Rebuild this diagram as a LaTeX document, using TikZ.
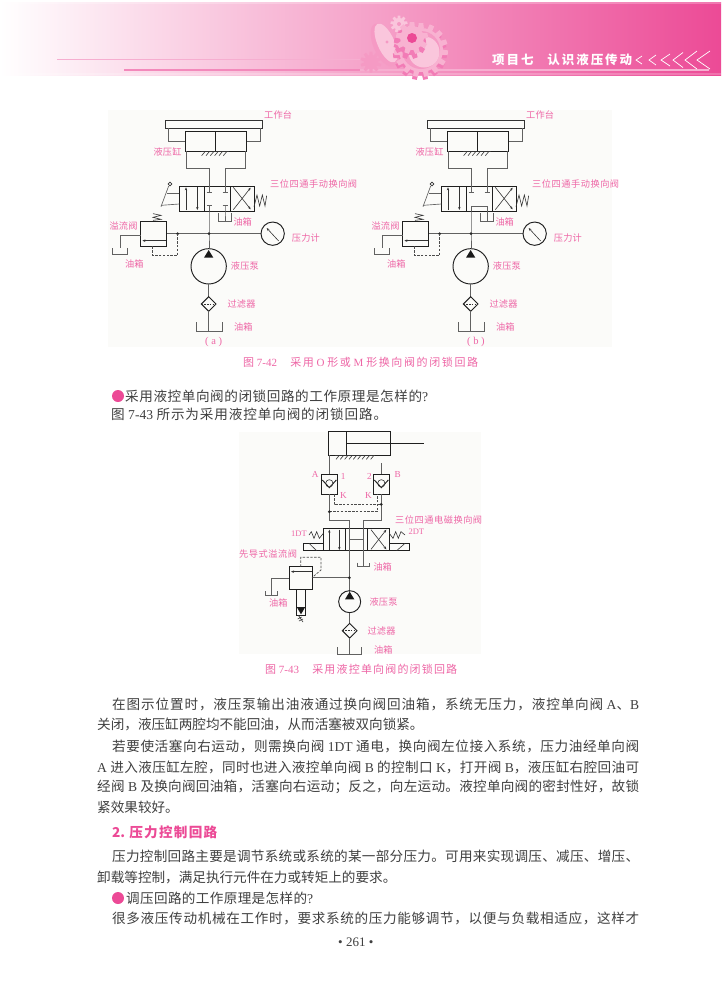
\documentclass[tikz,border=0pt]{standalone}
\usepackage{fontspec}
\usetikzlibrary{arrows.meta}
\setmainfont{Noto Sans CJK SC}
\newfontfamily\ltnfont{Liberation Serif}
\newcommand{\ltn}[1]{{\ltnfont #1}}
% stretchable glue between CJK characters, so that lines can be set to an exact width
\newXeTeXintercharclass\cjkcl
\newcount\cjkcnt
\cjkcnt="3000 \loop\ifnum\cjkcnt<"A000 \XeTeXcharclass\cjkcnt=\cjkcl \advance\cjkcnt by 1 \repeat
\cjkcnt="FF00 \loop\ifnum\cjkcnt<"FFF0 \XeTeXcharclass\cjkcnt=\cjkcl \advance\cjkcnt by 1 \repeat
\XeTeXinterchartoks\cjkcl\cjkcl={\hskip 0pt plus 1fil\relax}
\XeTeXinterchartokenstate=1
\definecolor{inkc}{HTML}{404040}
\definecolor{rosec}{HTML}{EC4A96}
\definecolor{labc}{HTML}{EE66A6}
\definecolor{figbg}{HTML}{FBFBF9}
\definecolor{geara}{HTML}{FAC6DC}
\definecolor{gearb}{HTML}{F8B2D1}
\definecolor{gearc}{HTML}{F59AC4}
\definecolor{geard}{HTML}{F27CB6}
\tikzset{
 bodyt/.style={anchor=west,inner sep=0pt,text=inkc,font=\fontsize{13.6}{14}\selectfont},
 capt/.style={anchor=west,inner sep=0pt,text=labc,font=\fontsize{11}{12}\selectfont},
 figlab/.style={anchor=west,inner sep=0pt,text=labc,font=\fontsize{9.2}{10}\selectfont},
 pipe/.style={draw=black!62,line width=.65pt},
 heavy/.style={draw=black!88,line width=.95pt},
 fine/.style={draw=black!80,line width=.6pt},
 pilot/.style={draw=black!70,line width=.7pt,dash pattern=on 2.4pt off 1.4pt},
 flow/.style={-{Stealth[length=3pt,width=2.4pt]}},
 jdot/.style={fill=black!85},
}
% name, x, y, width, style, text
\newcommand{\tl}[6]{\node[#5] (#1) at (#2,#3) {\makebox[#4pt][s]{#6}};}
\newcommand{\gearshape}[6]{%
 \fill[#6] (#1,#2) circle (#3);
 \foreach \k in {1,...,#5}{%
  \pgfmathsetmacro\ang{\k*360/#5}
  \fill[#6,rotate around={\ang:(#1,#2)}] ({#1-0.7*#4*3.14/#5},#2) -- ({#1-0.42*#4*3.14/#5},#2-#4) -- ({#1+0.42*#4*3.14/#5},#2-#4) -- ({#1+0.7*#4*3.14/#5},#2) -- cycle;
 }}
% the two upper circuits; coordinates are 3x pixels relative to the shift
\newcommand{\upperfig}[2]{%
\begin{scope}[shift={(#2,105)},x=.33333pt,y=-.33333pt]
 \draw[heavy,draw=black!80] (256,46) rectangle (546,70);
 \coordinate (#1ta) at (266,70); \coordinate (#1tb) at (541,70);
 \coordinate (#1cl) at (316,108); \coordinate (#1cr) at (500,108);
 \draw[pipe] (#1ta) |- (#1cl);
 \draw[pipe] (#1tb) |- (#1cr);
 \draw[heavy] (316,80) rectangle (500,138);
 \draw[heavy] (406,80) -- (406,138);
 \draw[fine] (362,140) -- (446,140);
 \foreach \i in {365,378,...,440}{\draw[fine] (\i+10,140) -- (\i,152);}
 \coordinate (#1vt1) at (387,243); \coordinate (#1vt2) at (435,243);
 \coordinate (#1cb1) at (318,138); \coordinate (#1cb2) at (497,138);
 \draw[pipe] (#1cb1) -- (318,190) -- (387,190) -- (#1vt1);
 \draw[pipe] (#1cb2) -- (497,190) -- (435,190) -- (#1vt2);
 % directional valve
 \draw[heavy] (298,243) rectangle (522,318);
 \draw[heavy] (373,243) -- (373,318) (450,243) -- (450,318);
 \draw[fine,flow] (318,315) -- (318,247);
 \draw[fine,flow] (352,247) -- (352,315);
 \draw[fine,flow] (460,314) -- (512,248);
 \draw[fine,flow] (460,247) -- (512,313);
 \draw[fine] (522,305) -- (531,270) -- (539,303) -- (547,270) -- (555,303) -- (560,272);
 \draw[pipe] (298,265) -- (262,265);
 \draw[pipe] (298,297) -- (243,301);
 \draw[pipe] (243,305) -- (266,243);
 \draw[fine,fill=white] (270,237) circle (5.5);
 % pressure line
 \coordinate (#1j1) at (387,386); \coordinate (#1j2) at (293,386);
 \coordinate (#1vb) at (387,318);
 \draw[pipe] (#1vb) -- (#1j1) -- (387,430);
 \draw[pipe] (258,386) -- (#1j2) -- (#1j1) -- (543,386);
 \fill[jdot] (#1j1) circle (4.5) (#1j2) circle (4.5);
 \draw[heavy] (578,386) circle (35);
 \draw[fine,flow] (596,408) -- (560,369);
 % relief valve
 \draw[heavy] (182,349) rectangle (258,424);
 \draw[fine,flow] (258,407) -- (187,407);
 \draw[fine] (219,346) -- (243,343) -- (219,337) -- (243,331) -- (219,326);
 \coordinate (#1rl) at (182,390); \coordinate (#1t1) at (120,430);
 \draw[pipe] (#1rl) -- (120,390) -- (#1t1);
 \draw[pipe] (96,430) -- (96,447) -- (143,447) -- (143,430);
 \coordinate (#1rb) at (218,424);
 \draw[pilot] (#1j2) -- (293,451) -- (218,451) -- (#1rb);
 % pump, filter, tank
 \draw[heavy] (386,484) circle (53);
 \fill[black!90] (386,435) -- (400,458) -- (372,458) -- cycle;
 \coordinate (#1pb) at (386,537); \coordinate (#1ft) at (386,575);
 \coordinate (#1fb) at (386,619); \coordinate (#1tk) at (386,678);
 \draw[pipe] (#1pb) -- (#1ft);
 \draw[heavy] (364,597) -- (386,575) -- (408,597) -- (386,619) -- cycle;
 \draw[fine,dash pattern=on 1.6pt off 1.2pt] (364,597) -- (408,597);
 \draw[pipe] (#1fb) -- (#1tk);
 \draw[pipe] (348,652) -- (348,678) -- (427,678) -- (427,652);
 % labels
 \tl{#1l1}{552}{30}{28}{figlab}{工作台}
 \tl{#1l2}{220}{140}{28}{figlab}{液压缸}
 \tl{#1l3}{570}{238}{87}{figlab}{三位四通手动换向阀}
 \tl{#1l4}{460}{352}{18}{figlab}{油箱}
 \tl{#1l5}{88}{362}{28}{figlab}{溢流阀}
 \tl{#1l6}{135}{478}{18}{figlab}{油箱}
 \tl{#1l7}{635}{398}{28}{figlab}{压力计}
 \tl{#1l8}{452}{484}{28}{figlab}{液压泵}
 \tl{#1l9}{442}{597}{28}{figlab}{过滤器}
 \tl{#1l10}{462}{666}{18}{figlab}{油箱}
\end{scope}}
\begin{document}
\begin{tikzpicture}[x=1pt,y=-1pt]
\useasboundingbox (0,0) rectangle (721,1005);
\fill[white] (0,0) rectangle (721,1005);
% header band
\shade[left color=white,right color=rosec,middle color=rosec!50!white] (0,2) rectangle (721,75);
\fill[white,opacity=.25] (0,2) rectangle (721,3.5);
\fill[white,opacity=.22] (0,72.5) rectangle (721,75);
\draw[draw=rosec!45!white,line width=.6pt] (57,59) -- (360,59);
\draw[draw=rosec!65!white,line width=1.3pt] (124,70) -- (360,70);
\draw[draw=rosec!45!white,line width=1.1pt] (360,70) -- (709,70);
% gears
\gearshape{399}{24}{6}{8.5}{9}{geara}
\fill[gearc] (399,24) circle (2);
\gearshape{371}{62}{7}{10.5}{10}{gearc}
\fill[gearc,rotate around={24:(384,45)}] (384,45) circle[x radius=10.5,y radius=23];
\fill[geara,rotate around={24:(386,43)}] (386,43) circle[x radius=8.5,y radius=21];
\fill[gearc] (387,42) circle (1.6);
\gearshape{420}{53}{22}{27}{15}{geard}
\gearshape{421}{50}{22}{27}{15}{gearb}
\fill[gearc] (421,50) circle (19);
\fill[geara] (424,52) circle (15.5);
\gearshape{410}{43}{12}{16}{9}{geard}
\gearshape{412}{38}{12}{16}{9}{gearb}
\fill[rosec] (412,38) circle (5);
% header text
\tl{htitle}{492}{60}{140}{anchor=west,inner sep=0pt,text=white,font=\fontsize{12.5}{13}\bfseries\selectfont}{项目七\hspace{1.1em minus 1em}认识液压传动}
\foreach \tipx/\endx/\hh [count=\n] in {636/642/4,649/656/5,661/670/6,673/683/7.5,685/697/9,697/710/9}
 {\draw[white,line width=.7pt] (\endx,60-\hh) -- (\tipx,60) -- (\endx,60+\hh);}
% figure backgrounds
\fill[figbg] (108,110) rectangle (612,347);
\fill[figbg] (239,432) rectangle (481,654);
% figure 7-42
\upperfig{a}{80}
\upperfig{b}{342}
% centre cells
\begin{scope}[shift={(80,105)},x=.33333pt,y=-.33333pt]
 \coordinate (avt1) at (387,243); \coordinate (avt2) at (435,243);
 \draw[pipe] (avt1) -- (387,262) (380,262) -- (395,262);
 \draw[pipe] (avt2) -- (435,262) (428,262) -- (443,262);
 \draw[pipe] (380,300) -- (395,300) (428,300) -- (443,300);
 \draw[pipe] (387,300) -- (387,318);
 \coordinate (atk) at (435,350);
 \draw[pipe] (435,300) -- (435,318) -- (atk);
 \draw[pipe] (415,325) -- (415,350) -- (455,350) -- (455,325);
 \node[anchor=west,inner sep=0pt,text=labc,font=\ltnfont\fontsize{10.5}{11}\selectfont] (acap) at (375,710) {( a )};
\end{scope}
\begin{scope}[shift={(342,105)},x=.33333pt,y=-.33333pt]
 \draw[pipe] (380,262) -- (395,262) (428,262) -- (443,262);
 \draw[pipe] (387,243) -- (387,262) (435,243) -- (435,262);
 \coordinate (bm1) at (387,305); \coordinate (bm2) at (435,305);
 \draw[pipe] (387,318) -- (bm1) -- (bm2) -- (435,350);
 \draw[pipe] (415,325) -- (415,350) -- (455,350) -- (455,325);
 \node[anchor=west,inner sep=0pt,text=labc,font=\ltnfont\fontsize{10.5}{11}\selectfont] (bcap) at (375,710) {( b )};
\end{scope}
% figure 7-43 upper part
\begin{scope}[shift={(235,425)},x=.33333pt,y=-.33333pt]
 \draw[heavy] (280,18) rectangle (465,90);
 \draw[heavy] (335,18) -- (335,90);
 \draw[heavy] (335,55) -- (568,55);
 \draw[fine] (300,92) -- (420,92);
 \foreach \i in {303,316,...,408}{\draw[fine] (\i+9,92) -- (\i,103);}
 % pilot-operated check valves
 \draw[heavy] (258,148) rectangle (307,208);
 \draw[heavy] (415,148) rectangle (464,208);
 \foreach \cx in {283,439}{
  \draw[heavy] (\cx-21,165) -- (\cx,188) -- (\cx+21,165);
  \draw[fine] (\cx,175) circle (11);
 }
 \coordinate (ca) at (283,90); \coordinate (aa) at (283,148); \coordinate (ab) at (283,208);
 \coordinate (cb) at (439,115); \coordinate (ba) at (439,148); \coordinate (bb) at (439,208);
 \coordinate (j1) at (283,260); \coordinate (j2) at (439,238);
 \coordinate (vt1) at (343,310); \coordinate (vt2) at (385,310);
 \draw[pipe] (ca) -- (aa);
 \draw[pipe] (cb) -- (ba);
 \draw[pipe] (ab) -- (j1) -- (283,285) -- (343,285) -- (vt1);
 \draw[pipe] (bb) -- (j2) -- (439,285) -- (385,285) -- (vt2);
 \coordinate (pa) at (297,208); \coordinate (pb) at (426,208);
 \draw[pilot] (pa) -- (297,238) -- (j2);
 \draw[pilot] (j1) -- (426,260) -- (pb);
 \fill[jdot] (j1) circle (4.5) (j2) circle (4.5);
 \tl{ta}{230}{148}{8}{figlab}{\ltnfont A}
 \tl{t1}{317}{155}{7}{figlab}{\ltnfont 1}
 \tl{t2}{396}{155}{7}{figlab}{\ltnfont 2}
 \tl{tb}{478}{148}{8}{figlab}{\ltnfont B}
 \tl{tk1}{315}{210}{7}{figlab}{\ltnfont K}
 \tl{tk2}{390}{210}{7}{figlab}{\ltnfont K}
 \tl{tv}{480}{285}{87}{figlab}{三位四通电磁换向阀}
\end{scope}
% figure 7-43 lower part
\begin{scope}[shift={(235,520)},x=.33333pt,y=-.33333pt]
 \draw[heavy] (265,25) rectangle (463,92);
 \draw[heavy] (331,25) -- (331,92) (397,25) -- (397,92);
 \draw[fine,flow] (283,90) -- (283,29);
 \draw[fine,flow] (313,29) -- (313,90);
 \draw[pipe] (343,25) -- (343,92) (385,25) -- (385,92) (343,57) -- (385,57);
 \draw[fine,flow] (408,88) -- (454,29);
 \draw[fine,flow] (408,29) -- (454,88);
 \draw[heavy] (205,70) rectangle (265,92);
 \draw[heavy] (463,70) rectangle (524,92);
 \draw[fine] (222,70) -- (245,92) (510,70) -- (485,92);
 \draw[fine] (222,45) -- (229,35) -- (237,55) -- (245,35) -- (253,55) -- (265,40);
 \draw[fine] (463,40) -- (474,55) -- (482,35) -- (490,55) -- (498,35) -- (510,45);
 % lines
 \coordinate (v1) at (343,92); \coordinate (v2) at (385,92);
 \coordinate (j3) at (343,173); \coordinate (rr) at (231,173); \coordinate (pt) at (343,215);
 \draw[pipe] (v1) -- (j3) -- (pt);
 \draw[pipe] (j3) -- (rr);
 \fill[jdot] (j3) circle (4.5);
 \coordinate (tk1) at (385,140);
 \draw[pipe] (v2) -- (tk1);
 \draw[pipe] (367,128) -- (367,140) -- (403,140) -- (403,128);
 % pilot relief valve
 \draw[heavy] (163,140) rectangle (231,208);
 \draw[fine,flow] (231,155) -- (168,155);
 \coordinate (rt) at (197,140);
 \draw[pilot] (rt) -- (197,112) -- (258,112) -- (258,150) -- (rr);
 \coordinate (rl) at (163,175); \coordinate (tl2) at (108,225);
 \draw[pipe] (rl) -- (108,175) -- (tl2);
 \draw[pipe] (90,213) -- (90,225) -- (127,225) -- (127,213);
 \draw[heavy] (185,208) rectangle (211,285);
 \draw[heavy] (185,262) -- (211,262);
 \fill[black!90] (187,264) -- (209,264) -- (198,283) -- cycle;
 \draw[fine] (190,286) -- (204,306) (188,297) -- (200,291) (192,303) -- (204,297);
 % pump, filter, tank
 \draw[heavy] (344,245) circle (33);
 \fill[black!90] (344,215) -- (358,238) -- (330,238) -- cycle;
 \coordinate (pp) at (344,278); \coordinate (ff) at (344,310);
 \coordinate (fg) at (344,354); \coordinate (tk2) at (344,403);
 \draw[pipe] (pp) -- (ff);
 \draw[heavy] (322,332) -- (344,310) -- (366,332) -- (344,354) -- cycle;
 \draw[fine,dash pattern=on 1.6pt off 1.2pt] (322,332) -- (366,332);
 \draw[pipe] (fg) -- (tk2);
 \draw[pipe] (308,382) -- (308,403) -- (380,403) -- (380,382);
 % labels
 \node[figlab,font=\ltnfont\fontsize{8.5}{9}\selectfont] (t1dt) at (168,42) {1DT};
 \node[figlab,font=\ltnfont\fontsize{8.5}{9}\selectfont] (t2dt) at (520,35) {2DT};
 \tl{txa}{415}{142}{18}{figlab}{油箱}
 \tl{txb}{102}{250}{18}{figlab}{油箱}
 \tl{txc}{12}{102}{58}{figlab}{先导式溢流阀}
 \tl{txd}{403}{245}{28}{figlab}{液压泵}
 \tl{txe}{397}{332}{28}{figlab}{过滤器}
 \tl{txf}{417}{390}{18}{figlab}{油箱}
\end{scope}
% captions and body text
\tl{c1}{243}{362}{235}{capt}{图\ltn{ 7-42}\hspace{1.2em}采用\ltn{ O }形或\ltn{ M }形换向阀的闭锁回路}
\fill[rosec] (118,396) circle (6);
\tl{q1}{125}{396}{303}{bodyt}{采用液控单向阀的闭锁回路的工作原理是怎样的\ltn{?}}
\tl{q2}{111}{414}{276}{bodyt}{图\ltn{ 7-43 }所示为采用液控单向阀的闭锁回路。}
\tl{c2}{265}{669}{192}{capt}{图\ltn{ 7-43}\hspace{1.2em}采用液控单向阀的闭锁回路}
\tl{p1}{112}{704}{527}{bodyt}{在图示位置时，液压泵输出油液通过换向阀回油箱，系统无压力，液控单向阀\ltn{ A}、\ltn{B}}
\tl{p2}{97}{724}{315}{bodyt}{关闭，液压缸两腔均不能回油，从而活塞被双向锁紧。}
\tl{p3}{112}{746}{527}{bodyt}{若要使活塞向右运动，则需换向阀\ltn{ 1DT }通电，换向阀左位接入系统，压力油经单向阀}
\tl{p4}{97}{767}{542}{bodyt}{\ltn{A }进入液压缸左腔，同时也进入液控单向阀\ltn{ B }的控制口\ltn{ K}，打开阀\ltn{ B}，液压缸右腔回油可}
\tl{p5}{97}{787}{542}{bodyt}{经阀\ltn{ B }及换向阀回油箱，活塞向右运动；反之，向左运动。液控单向阀的密封性好，故锁}
\tl{p6}{97}{807}{63}{bodyt}{紧效果较好。}
\node[anchor=west,inner sep=0pt,text=rosec,font=\fontsize{13.6}{14}\bfseries\selectfont] (h2) at (112,832) {\makebox[105pt][s]{2. 压力控制回路}};
\tl{p7}{112}{856}{527}{bodyt}{压力控制回路主要是调节系统或系统的某一部分压力。可用来实现调压、减压、增压、}
\tl{p8}{97}{877}{288}{bodyt}{卸载等控制，满足执行元件在力或转矩上的要求。}
\fill[rosec] (118,898) circle (6);
\tl{q3}{126}{898}{187}{bodyt}{调压回路的工作原理是怎样的\ltn{?}}
\tl{p9}{112}{918}{527}{bodyt}{很多液压传动机械在工作时，要求系统的压力能够调节，以便与负载相适应，这样才}
\node[anchor=west,inner sep=0pt,text=inkc,font=\ltnfont\fontsize{13}{14}\selectfont] (pg) at (338,942) {• 261 •};
\end{tikzpicture}
\end{document}
